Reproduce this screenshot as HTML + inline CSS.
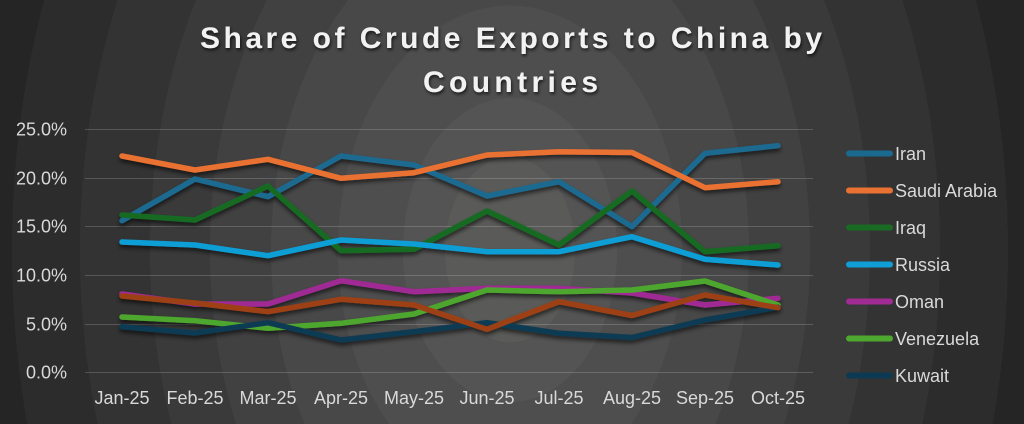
<!DOCTYPE html>
<html><head><meta charset="utf-8"><style>
html,body{margin:0;padding:0;width:1024px;height:424px;overflow:hidden;}
body{background:radial-gradient(ellipse 107px 152px at 510px 250px,#5a5a58 0px,#5a5a58 65px,#545454 65px,#545454 107px,#4e4e4e 107px,#4e4e4e 172px,#484848 172px,#484848 239px,#414141 239px,#414141 300px,#3a3a3a 300px,#3a3a3a 360px,#333333 360px,#333333 430px,#2c2c2c 430px,#2c2c2c 498px,#252525 498px);}
svg{position:absolute;left:0;top:0;}
text{font-family:"Liberation Sans",sans-serif;}
</style></head><body>
<svg width="1024" height="424" viewBox="0 0 1024 424" xmlns="http://www.w3.org/2000/svg">
<defs>
<filter id="sh" x="-10%" y="-20%" width="120%" height="150%"><feDropShadow dx="0" dy="3" stdDeviation="2" flood-color="#000" flood-opacity="0.6"/></filter>
<filter id="tsh" x="-10%" y="-30%" width="120%" height="160%"><feDropShadow dx="1" dy="2" stdDeviation="1.5" flood-color="#000" flood-opacity="0.7"/></filter>
</defs>
<g filter="url(#tsh)" fill="#f2f2f2" font-weight="bold" font-size="30">
<text x="200" y="48" textLength="622" lengthAdjust="spacing">Share of Crude Exports to China by</text>
<text x="423" y="92" textLength="175" lengthAdjust="spacing">Countries</text>
</g>
<g stroke="rgba(217,217,217,0.22)" stroke-width="1">
<line x1="85" y1="129.5" x2="813" y2="129.5"/>
<line x1="85" y1="178.5" x2="813" y2="178.5"/>
<line x1="85" y1="226.5" x2="813" y2="226.5"/>
<line x1="85" y1="275.5" x2="813" y2="275.5"/>
<line x1="85" y1="324.5" x2="813" y2="324.5"/>
<line x1="85" y1="372.5" x2="813" y2="372.5"/>
</g>
<g fill="#d9d9d9" font-size="18" text-anchor="end">
<text x="67" y="135.5">25.0%</text>
<text x="67" y="184.5">20.0%</text>
<text x="67" y="232.5">15.0%</text>
<text x="67" y="281.5">10.0%</text>
<text x="67" y="330.5">5.0%</text>
<text x="67" y="378.5">0.0%</text>
</g>
<g fill="#d9d9d9" font-size="18" text-anchor="middle">
<text x="122" y="404">Jan-25</text>
<text x="195" y="404">Feb-25</text>
<text x="268" y="404">Mar-25</text>
<text x="341" y="404">Apr-25</text>
<text x="414" y="404">May-25</text>
<text x="487" y="404">Jun-25</text>
<text x="559" y="404">Jul-25</text>
<text x="632" y="404">Aug-25</text>
<text x="705" y="404">Sep-25</text>
<text x="778" y="404">Oct-25</text>
</g>
<g fill="none" stroke-width="5.5" stroke-linejoin="round" stroke-linecap="round" filter="url(#sh)">
<polyline stroke="#1a6a90" points="122,220.7 195,179 268,196.7 341,156 414,165 487,196 559,181.7 632,226.7 705,153.3 778,145.7"/>
<polyline stroke="#e97132" points="122,156 195,170 268,159.3 341,178.3 414,172.7 487,155 559,151.7 632,152.5 705,187.7 778,181.7"/>
<polyline stroke="#196b24" points="122,215 195,220 268,186 341,250.7 414,249.3 487,211 559,245 632,191 705,251.7 778,245.7"/>
<polyline stroke="#0f9ed5" points="122,242 195,245 268,255.7 341,240 414,244 487,251.7 559,251.7 632,236.7 705,259.3 778,265"/>
<polyline stroke="#a02b93" points="122,294 195,304 268,304 341,280.7 414,291.7 487,288.3 559,288.3 632,293 705,305 778,298.3"/>
<polyline stroke="#4ea72e" points="122,317 195,320.7 268,328.3 341,323.3 414,314 487,290 559,291.7 632,290 705,281 778,305"/>
<polyline stroke="#0c3a52" points="122,326.7 195,333 268,322.7 341,340 414,331.7 487,322.7 559,333.3 632,337.5 705,320 778,307.3"/>
<polyline stroke="#9e4112" points="122,296 195,303 268,311.7 341,299.3 414,305 487,329.3 559,301.7 632,315.5 705,295 778,307.7"/>
</g>
<g stroke-width="6" stroke-linecap="round">
<line x1="849" y1="153.5" x2="890" y2="153.5" stroke="#1a6a90"/>
<line x1="849" y1="190.5" x2="890" y2="190.5" stroke="#e97132"/>
<line x1="849" y1="227.5" x2="890" y2="227.5" stroke="#196b24"/>
<line x1="849" y1="264.5" x2="890" y2="264.5" stroke="#0f9ed5"/>
<line x1="849" y1="301.5" x2="890" y2="301.5" stroke="#a02b93"/>
<line x1="849" y1="338.5" x2="890" y2="338.5" stroke="#4ea72e"/>
<line x1="849" y1="375.5" x2="890" y2="375.5" stroke="#0c3a52"/>
</g>
<g fill="#d9d9d9" font-size="18">
<text x="895" y="160">Iran</text>
<text x="895" y="197">Saudi Arabia</text>
<text x="895" y="234">Iraq</text>
<text x="895" y="271">Russia</text>
<text x="895" y="308">Oman</text>
<text x="895" y="345">Venezuela</text>
<text x="895" y="382">Kuwait</text>
</g>
</svg>
</body></html>
